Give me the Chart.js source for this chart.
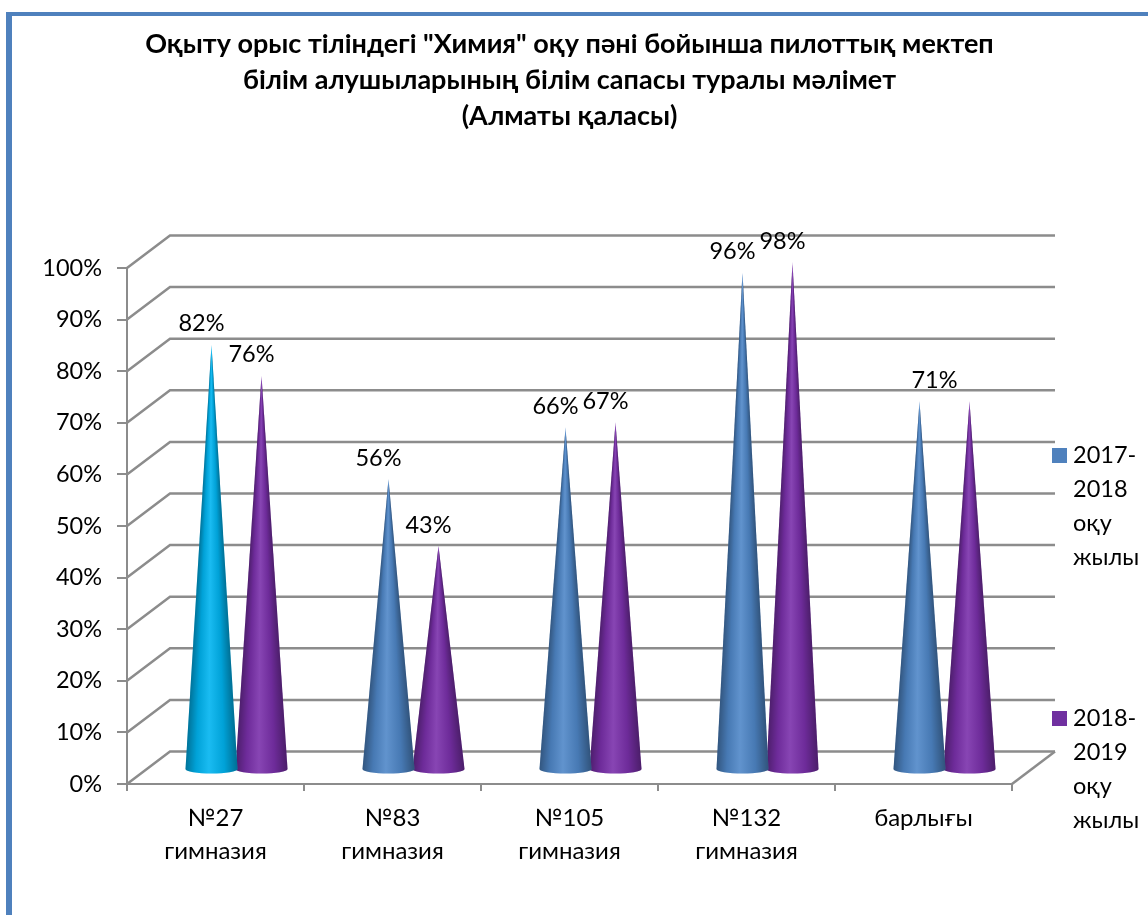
<!DOCTYPE html>
<html>
<head>
<meta charset="utf-8">
<script src="https://cdn.jsdelivr.net/npm/chart.js@4"></script>
<style>
  body { margin: 0; background: #fff; }
  #frame { position: absolute; left: 6px; top: 12px; right: 0; bottom: 0; border-left: 6px solid #4f81bd; border-top: 4px solid #4f81bd; }
  canvas { position: absolute; left: 0; top: 0; }
</style>
</head>
<body>
<div id="frame"></div>
<canvas id="cones" width="1148" height="915"></canvas>
<script>
const titleLines = ['Оқыту орыс тіліндегі "Химия" оқу пәні бойынша пилоттық мектеп', 'білім алушыларының білім сапасы туралы мәлімет', '(Алматы қаласы)'];
const categories = [['№27', 'гимназия'], ['№83', 'гимназия'], ['№105', 'гимназия'], ['№132', 'гимназия'], 'барлығы'];
const series2017 = [82, 56, 66, 96, 71];
const series2018 = [76, 43, 67, 98, 71];
const label2017 = '2017-2018 оқу жылы';
const label2018 = '2018-2019 оқу жылы';

const fontName = 'Lato, "Noto Sans", sans-serif';
const gridColor = '#8c8c8c';
const depthX = 43, depthY = 32.5;       // how far the back wall sits from the axes
const coneX = 21, coneY = 16;           // cones stand half way into the floor

// bars are drawn as cones, shaded around the tip
Chart.BarElement.prototype.draw = function (ctx) {
  const { x, y, base, width } = this.getProps(['x', 'y', 'base', 'width']);
  const cx = x + coneX, tip = y - coneY, by = base - coneY + 2, hw = width / 2 + 1;
  const half = Math.atan(hw / (by - tip));
  const span = half * 2 / (Math.PI * 2);
  const shade = ctx.createConicGradient(Math.PI / 2 - half, cx, tip);
  shade.addColorStop(0, 'rgba(0,0,0,0.38)');
  shade.addColorStop(span * 0.25, 'rgba(0,0,0,0.1)');
  shade.addColorStop(span * 0.55, 'rgba(255,255,255,0.1)');
  shade.addColorStop(span * 0.8, 'rgba(0,0,0,0.1)');
  shade.addColorStop(span, 'rgba(0,0,0,0.36)');
  ctx.save();
  ctx.beginPath();
  ctx.moveTo(cx, tip);
  ctx.lineTo(cx + hw, by);
  ctx.ellipse(cx, by, hw, 4.5, 0, 0, Math.PI);
  ctx.closePath();
  ctx.fillStyle = this.options.backgroundColor;
  ctx.fill();
  ctx.fillStyle = shade;
  ctx.fill();
  ctx.restore();
};

const backWall = {
  id: 'backWall',
  beforeDatasetsDraw(chart) {
    const { ctx, chartArea, scales } = chart;
    ctx.save();
    ctx.strokeStyle = gridColor;
    ctx.lineWidth = 2.5;
    scales.y.ticks.forEach(t => {
      const y = scales.y.getPixelForValue(t.value);
      ctx.beginPath();
      ctx.moveTo(chartArea.left, y);
      ctx.lineTo(chartArea.left + depthX, y - depthY);
      ctx.lineTo(chartArea.right + depthX, y - depthY);
      ctx.stroke();
    });
    ctx.beginPath();
    ctx.moveTo(chartArea.right, chartArea.bottom);
    ctx.lineTo(chartArea.right + depthX, chartArea.bottom - depthY);
    ctx.stroke();
    ctx.restore();
  }
};

const coneLabels = {
  id: 'coneLabels',
  afterDatasetsDraw(chart) {
    const { ctx } = chart;
    const first = chart.getDatasetMeta(0).data, second = chart.getDatasetMeta(1).data;
    ctx.save();
    ctx.font = '23.5px ' + fontName;
    ctx.fillStyle = '#000';
    ctx.textAlign = 'center';
    ctx.textBaseline = 'middle';
    const put = (bar, x, v) => ctx.fillText(v + '%', x + coneX - 10, bar.y - coneY - 21);
    categories.forEach((c, i) => {
      if (series2017[i] === series2018[i]) {
        // same value twice: the picture shows one label between the cones
        put(first[i], (first[i].x + second[i].x) / 2, series2017[i]);
      } else {
        put(first[i], first[i].x, series2017[i]);
        put(second[i], second[i].x, series2018[i]);
      }
    });
    ctx.restore();
  }
};

const sideLegend = {
  id: 'sideLegend',
  afterDraw(chart) {
    const { ctx, chartArea } = chart;
    const tops = [448, 711];
    ctx.save();
    ctx.font = '23.5px ' + fontName;
    ctx.textBaseline = 'middle';
    chart.data.datasets.forEach((d, i) => {
      const x = chartArea.right + 40;
      ctx.fillStyle = d.legendColor;
      ctx.fillRect(x, tops[i], 15, 15);
      ctx.fillStyle = '#000';
      d.label.replace('-', '- ').split(' ').forEach((word, n) => {
        ctx.fillText(word, x + 21, tops[i] + 7 + n * 34);
      });
    });
    ctx.restore();
  }
};

new Chart(document.getElementById('cones'), {
  type: 'bar',
  data: {
    labels: categories,
    datasets: [
      { label: label2017, data: series2017, clip: false, legendColor: '#4f81bd',
        backgroundColor: ['#00b4f0', '#4f87c8', '#4f87c8', '#4f87c8', '#4f87c8'] },
      { label: label2018, data: series2018, clip: false, legendColor: '#7030a0',
        backgroundColor: '#7a30ab' }
    ]
  },
  options: {
    responsive: false,
    animation: false,
    categoryPercentage: 0.565,
    barPercentage: 1,
    layout: { padding: { top: 26, right: 136, left: 0, bottom: 0 } },
    plugins: {
      legend: { display: false },
      tooltip: { enabled: false },
      title: {
        display: true,
        fullSize: false,
        text: titleLines,
        color: '#000',
        font: { family: fontName, size: 27, weight: 'bold', lineHeight: 1.333 },
        padding: { top: 0, bottom: 134 }
      }
    },
    scales: {
      x: {
        afterFit: s => { s.height = 131; },
        border: { color: gridColor, width: 2 },
        grid: { color: gridColor, lineWidth: 2, drawOnChartArea: false, tickLength: 7 },
        ticks: { color: '#000', padding: 10, maxRotation: 0, autoSkip: false, font: { family: fontName, size: 24, lineHeight: 1.4 } }
      },
      y: {
        min: 0,
        max: 100,
        afterFit: s => { s.width = 127; },
        border: { color: gridColor, width: 2 },
        grid: { color: gridColor, lineWidth: 2, drawOnChartArea: false, tickLength: 10 },
        ticks: { color: '#000', stepSize: 10, padding: 15, callback: v => v + '%', font: { family: fontName, size: 23.5 } }
      }
    }
  },
  plugins: [backWall, coneLabels, sideLegend]
});
</script>
</body>
</html>
